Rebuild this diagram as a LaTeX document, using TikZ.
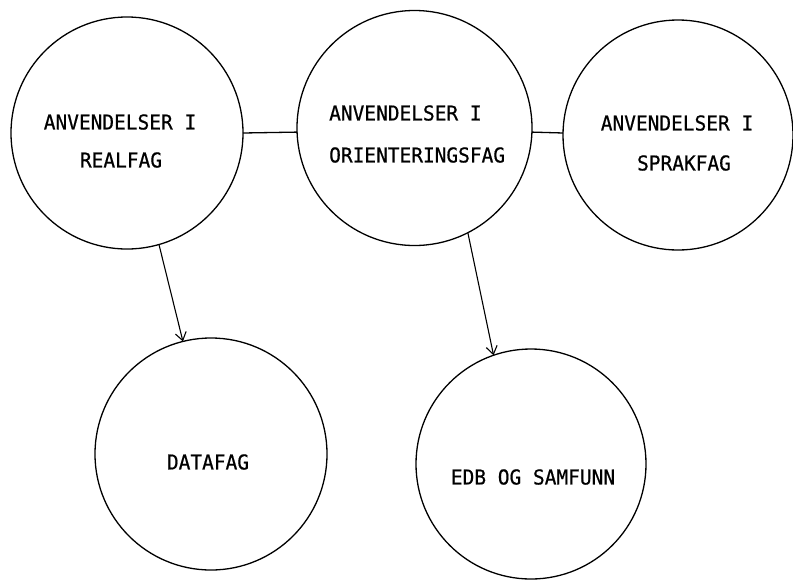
\documentclass[tikz,border=0pt]{standalone}
\usepackage{fontspec}
\setmonofont{DejaVu Sans Mono}[FakeStretch=0.95,FakeBold=0.6]
\usetikzlibrary{arrows.meta}
\begin{document}
\begin{tikzpicture}[x=1pt,y=-1pt,
  bubble/.style={circle,draw,line width=1.3pt,inner sep=0pt,outer sep=0pt,minimum size=#1},
  lbl/.style={font=\ttfamily\fontsize{20.5}{23}\selectfont,inner sep=0pt},
  link/.style={line width=1.3pt},
  flow/.style={line width=1.1pt,-{Straight Barb[length=8pt,width=11pt,line width=1.1pt]}}]
\useasboundingbox (0,0) rectangle (793,579);
\node[bubble=232pt] (c1) at (127,133) {};
\node[bubble=235pt] (c2) at (414.5,128) {};
\node[bubble=230pt] (c3) at (678,135) {};
\node[bubble=232pt] (c4) at (211,454) {};
\node[bubble=230pt] (c5) at (531,464) {};
% texts
\node[lbl] (t1a) at (120,122) {ANVENDELSER I};
\node[lbl] (t1b) at (121,160) {REALFAG};
\node[lbl,anchor=west] (t2a) at (329,113) {ANVENDELSER I};
\node[lbl,anchor=west] (t2b) at (329,155) {ORIENTERINGSFAG};
\node[lbl] (t3a) at (677,123) {ANVENDELSER I};
\node[lbl] (t3b) at (684,163) {SPRAKFAG};
\node[lbl] (t4) at (208,462) {DATAFAG};
\node[lbl] (t5) at (533,477) {EDB OG SAMFUNN};
% connectors
\draw[link] (c1.0) -- (c2.182);
\draw[link] (c2.-2.4) -- (c3.179);
\draw[flow] (c1.-74) -- (c4.104);
\draw[flow] (c2.-63) -- (c5.109);
\end{tikzpicture}
\end{document}
